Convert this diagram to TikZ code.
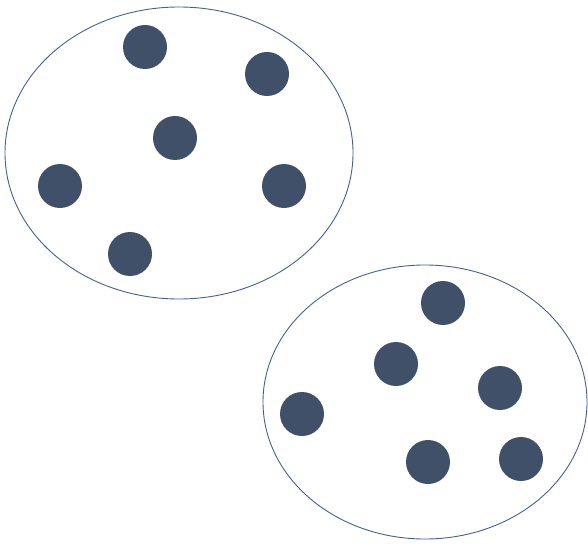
\documentclass[tikz,border=0pt]{standalone}
\usepackage{tikz}
\definecolor{dotblue}{HTML}{3F5068}
\definecolor{rimblue}{HTML}{4A5E8E}

\begin{document}
\begin{tikzpicture}[x=1pt,y=-1pt,
  rim/.style={draw=rimblue,fill=none,line width=0.9pt},
  dot/.style={circle,fill=dotblue,draw=none,inner sep=0pt,minimum size=44pt}]
  \useasboundingbox (0,0) rectangle (588,545);
  \draw[rim] (179,153) ellipse [x radius=174, y radius=146];
  \draw[rim] (425,402) ellipse [x radius=162, y radius=137];
  \node[dot] (a1) at (145,47) {};
  \node[dot] (a2) at (267,74) {};
  \node[dot] (a3) at (175,138) {};
  \node[dot] (a4) at (60,186) {};
  \node[dot] (a5) at (284,186) {};
  \node[dot] (a6) at (130,254) {};
  \node[dot] (b1) at (443,303) {};
  \node[dot] (b2) at (396,364) {};
  \node[dot] (b3) at (500,388) {};
  \node[dot] (b4) at (302,414) {};
  \node[dot] (b5) at (428,462) {};
  \node[dot] (b6) at (521,459) {};
\end{tikzpicture}
\end{document}
